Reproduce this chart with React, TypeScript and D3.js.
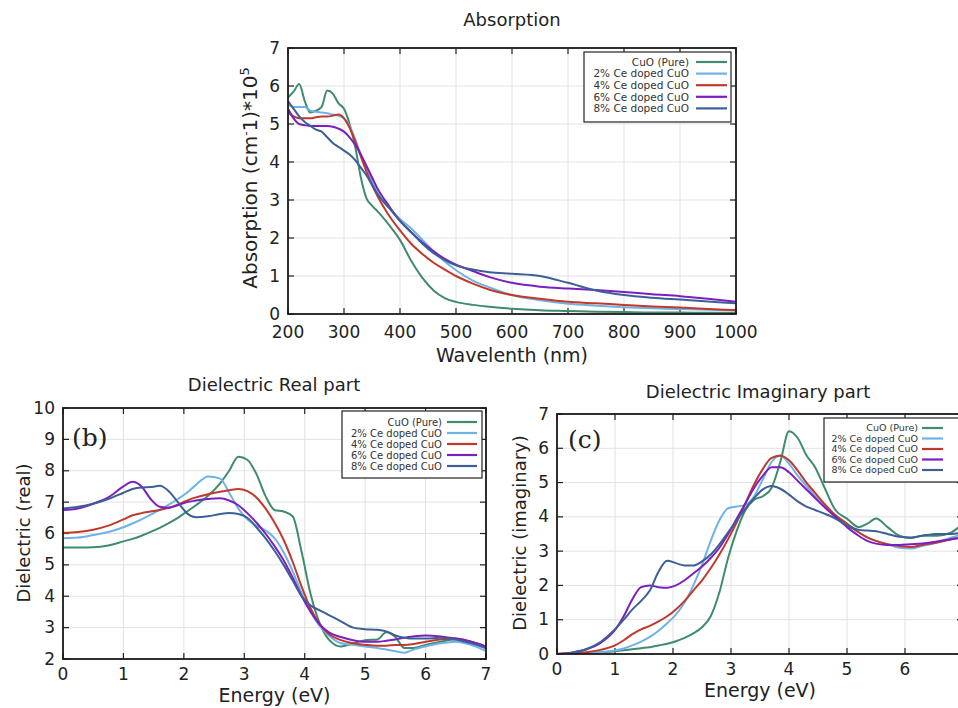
import React from 'react';
import * as d3 from 'd3';

// ---- series ----
const seriesNames = ['CuO (Pure)', '2% Ce doped CuO', '4% Ce doped CuO', '6% Ce doped CuO', '8% Ce doped CuO'];
const seriesColors = ['#3f8c6c', '#6fb2e8', '#c0392b', '#7b1fbf', '#3d5f98'];

// ---- (a) absorption ----
const absWavelength = [200, 210, 220, 230, 240, 250, 260, 270, 280, 290, 300, 310, 320, 330, 340, 350, 360, 380, 400, 420, 440, 460, 480, 500, 530, 560, 600, 650, 700, 750, 800, 850, 900, 950, 1000];
const absPure = [5.7, 5.85, 6.05, 5.6, 5.3, 5.35, 5.45, 5.88, 5.8, 5.55, 5.4, 5.0, 4.4, 3.6, 3.05, 2.85, 2.7, 2.35, 1.95, 1.4, 0.95, 0.62, 0.42, 0.32, 0.24, 0.19, 0.14, 0.1, 0.08, 0.06, 0.05, 0.04, 0.04, 0.03, 0.03];
const abs2 = [5.5, 5.45, 5.45, 5.45, 5.35, 5.32, 5.3, 5.28, 5.25, 5.22, 5.15, 4.95, 4.6, 4.2, 3.85, 3.5, 3.2, 2.8, 2.5, 2.25, 1.95, 1.65, 1.38, 1.15, 0.88, 0.7, 0.5, 0.36, 0.27, 0.22, 0.18, 0.15, 0.13, 0.11, 0.1];
const abs4 = [5.3, 5.2, 5.15, 5.15, 5.15, 5.18, 5.2, 5.2, 5.22, 5.25, 5.15, 4.9, 4.55, 4.15, 3.75, 3.4, 3.1, 2.6, 2.2, 1.85, 1.58, 1.35, 1.17, 1.0, 0.8, 0.64, 0.5, 0.4, 0.32, 0.28, 0.24, 0.2, 0.17, 0.13, 0.1];
const abs6 = [5.4, 5.15, 5.0, 4.97, 4.95, 4.95, 4.95, 4.95, 4.93, 4.88, 4.8, 4.65, 4.45, 4.2, 3.9, 3.6, 3.3, 2.85, 2.45, 2.15, 1.88, 1.65, 1.45, 1.3, 1.13, 0.97, 0.82, 0.72, 0.67, 0.63, 0.58, 0.52, 0.47, 0.4, 0.32];
const abs8 = [5.6, 5.4, 5.2, 5.05, 4.95, 4.85, 4.8, 4.65, 4.5, 4.4, 4.3, 4.2, 4.05, 3.85, 3.65, 3.4, 3.15, 2.8, 2.45, 2.15, 1.85, 1.6, 1.42, 1.28, 1.17, 1.1, 1.06, 1.0, 0.82, 0.62, 0.5, 0.43, 0.38, 0.33, 0.28];
const absXTicks = [200, 300, 400, 500, 600, 700, 800, 900, 1000];
const absYTicks = [0, 1, 2, 3, 4, 5, 6, 7];

// ---- (b) dielectric real ----
const realEnergy = [0, 0.25, 0.5, 0.75, 1, 1.15, 1.3, 1.45, 1.6, 1.75, 1.9, 2.05, 2.2, 2.4, 2.6, 2.75, 2.9, 3.05, 3.2, 3.35, 3.5, 3.65, 3.8, 3.95, 4.1, 4.25, 4.4, 4.6, 4.8, 5.0, 5.2, 5.35, 5.5, 5.65, 5.8, 6.0, 6.25, 6.5, 6.75, 7.0];
const realPure = [5.55, 5.55, 5.56, 5.62, 5.75, 5.83, 5.93, 6.05, 6.18, 6.33, 6.5, 6.7, 6.9, 7.2, 7.6, 8.0, 8.45, 8.35, 7.9, 7.2, 6.75, 6.7, 6.55, 5.4, 4.05, 3.13, 2.62, 2.4, 2.5, 2.6, 2.62, 2.85, 2.7, 2.35, 2.35, 2.45, 2.55, 2.62, 2.55, 2.35];
const real2 = [5.85, 5.87, 5.95, 6.05, 6.2, 6.32, 6.45, 6.6, 6.75, 6.92, 7.1, 7.3, 7.55, 7.82, 7.75, 7.3, 6.8, 6.45, 6.25, 6.1, 5.85, 5.4, 4.8, 4.1, 3.5, 3.05, 2.75, 2.5, 2.45, 2.4, 2.35, 2.3, 2.25, 2.2, 2.3, 2.4, 2.5, 2.55, 2.45, 2.25];
const real4 = [6.02, 6.05, 6.12, 6.25, 6.45, 6.58, 6.65, 6.7, 6.75, 6.82, 6.92, 7.05, 7.15, 7.25, 7.33, 7.38, 7.42, 7.35, 7.15, 6.8, 6.35, 5.8, 5.1, 4.3, 3.6, 3.1, 2.8, 2.6, 2.5, 2.45, 2.42, 2.42, 2.45, 2.45, 2.48, 2.55, 2.62, 2.65, 2.55, 2.4];
const real6 = [6.75, 6.8, 6.95, 7.15, 7.5, 7.65, 7.5, 7.1, 6.85, 6.82, 6.9, 7.0, 7.05, 7.1, 7.12, 7.05, 6.9, 6.65, 6.35, 6.0, 5.6, 5.15, 4.6, 4.0, 3.5, 3.1, 2.85, 2.7, 2.6, 2.55, 2.55, 2.58, 2.62, 2.68, 2.72, 2.75, 2.72, 2.65, 2.55, 2.4];
const real8 = [6.8, 6.85, 6.95, 7.1, 7.3, 7.42, 7.47, 7.48, 7.52, 7.35, 7.0, 6.65, 6.52, 6.55, 6.62, 6.65, 6.62, 6.5, 6.2, 5.85, 5.45, 5.0, 4.5, 4.0, 3.7, 3.55, 3.4, 3.2, 3.0, 2.95, 2.93, 2.88, 2.75, 2.68, 2.65, 2.65, 2.68, 2.62, 2.5, 2.35];
const realXTicks = [0, 1, 2, 3, 4, 5, 6, 7];
const realYTicks = [2, 3, 4, 5, 6, 7, 8, 9, 10];

// ---- (c) dielectric imaginary ----
const imagEnergy = [0, 0.25, 0.5, 0.75, 1, 1.15, 1.3, 1.45, 1.6, 1.75, 1.9, 2.05, 2.2, 2.35, 2.5, 2.65, 2.8, 2.95, 3.1, 3.25, 3.4, 3.55, 3.7, 3.85, 4.0, 4.15, 4.3, 4.45, 4.6, 4.8, 5.0, 5.2, 5.35, 5.5, 5.7, 5.9, 6.1, 6.3, 6.55, 6.8, 7.0];
const imagPure = [0, 0.01, 0.03, 0.05, 0.08, 0.11, 0.14, 0.17, 0.2, 0.25, 0.3, 0.37, 0.47, 0.6, 0.78, 1.1, 1.8, 2.8, 3.6, 4.2, 4.5, 4.6, 4.85, 5.6, 6.5, 6.3, 5.8, 5.45, 4.9, 4.2, 3.95, 3.7, 3.8, 3.95, 3.7, 3.45, 3.38, 3.45, 3.45, 3.55, 3.8];
const imag2 = [0, 0.01, 0.03, 0.06, 0.1, 0.16, 0.25, 0.36, 0.5, 0.68, 0.9, 1.15, 1.5, 2.0, 2.6, 3.3, 3.9, 4.25, 4.3, 4.35, 4.6, 5.1, 5.6, 5.8, 5.55, 5.2, 4.9, 4.6, 4.35, 4.05, 3.8, 3.55, 3.4, 3.3, 3.2, 3.1, 3.08, 3.15, 3.25, 3.4, 3.5];
const imag4 = [0, 0.02, 0.05, 0.12, 0.25, 0.4, 0.58, 0.72, 0.82, 0.95, 1.1, 1.3, 1.55, 1.85, 2.15, 2.5, 2.9, 3.35, 3.85, 4.4, 4.95, 5.4, 5.72, 5.78, 5.65, 5.35, 5.0, 4.7, 4.4, 4.05, 3.8, 3.55, 3.4, 3.3, 3.2, 3.15, 3.12, 3.18, 3.25, 3.35, 3.4];
const imag6 = [0, 0.04, 0.13, 0.32, 0.7, 1.1, 1.6, 1.95, 2.0, 1.95, 1.93, 2.0, 2.15, 2.35, 2.55, 2.8, 3.1, 3.5, 3.95, 4.4, 4.85, 5.2, 5.45, 5.45, 5.3, 5.05, 4.8, 4.55, 4.3, 4.0, 3.7, 3.45, 3.3, 3.22, 3.18, 3.18, 3.2, 3.22, 3.28, 3.35, 3.4];
const imag8 = [0, 0.04, 0.14, 0.35, 0.72, 1.0, 1.3, 1.55, 1.85, 2.4, 2.72, 2.65, 2.58, 2.58, 2.7, 2.9, 3.2, 3.55, 3.9, 4.25, 4.55, 4.8, 4.9, 4.82, 4.65, 4.45, 4.3, 4.2, 4.1, 3.95, 3.75, 3.62, 3.6, 3.58, 3.5, 3.42, 3.4, 3.45, 3.5, 3.5, 3.55];
// the 7 eV tick falls past the right edge of the figure
const imagXTicks = [0, 1, 2, 3, 4, 5, 6];
const imagYTicks = [0, 1, 2, 3, 4, 5, 6, 7];

const FONT = 'DejaVu Sans, sans-serif';

type Legend = { x0: number; x1: number; y0: number; y1: number; row0: number; step: number; textRight: number; l0: number; l1: number; size: number };

type PanelProps = {
  id: string;
  box: { left: number; top: number; right: number; bottom: number };
  xDomain: [number, number];
  yDomain: [number, number];
  xTicks: number[];
  yTicks: number[];
  xs: number[];
  ys: number[][];
  title: string;
  titlePos: [number, number];
  xLabel: string;
  xLabelY: number;
  yLabel: React.ReactNode;
  yLabelPos: [number, number];
  yLabelSize: number;
  legend: Legend;
  tag?: { text: string; x: number; y: number };
  tickGap: number;
};

function Panel(p: PanelProps) {
  const { box } = p;
  const x = d3.scaleLinear().domain(p.xDomain).range([box.left, box.right]);
  const y = d3.scaleLinear().domain(p.yDomain).range([box.bottom, box.top]);
  const line = d3.line<number>()
    .x((_, i) => x(p.xs[i]))
    .y(d => y(d))
    .curve(d3.curveMonotoneX);
  const tk = 6;
  const lg = p.legend;

  return (
    <g>
      <defs>
        <clipPath id={'clip-' + p.id}>
          <rect x={box.left} y={box.top} width={box.right - box.left} height={box.bottom - box.top} />
        </clipPath>
      </defs>
      <rect x={box.left} y={box.top} width={box.right - box.left} height={box.bottom - box.top} fill="#fff" />
      {/* grid */}
      {p.xTicks.map(t => (
        <line key={'gx' + t} x1={x(t)} x2={x(t)} y1={box.top} y2={box.bottom} stroke="#e2e2e2" strokeWidth={1} />
      ))}
      {p.yTicks.map(t => (
        <line key={'gy' + t} x1={box.left} x2={box.right} y1={y(t)} y2={y(t)} stroke="#e2e2e2" strokeWidth={1} />
      ))}
      {/* ticks, mirrored on all sides */}
      {p.xTicks.map(t => (
        <g key={'tx' + t} stroke="#222" strokeWidth={1.2}>
          <line x1={x(t)} x2={x(t)} y1={box.bottom} y2={box.bottom - tk} />
          <line x1={x(t)} x2={x(t)} y1={box.top} y2={box.top + tk} />
        </g>
      ))}
      {p.yTicks.map(t => (
        <g key={'ty' + t} stroke="#222" strokeWidth={1.2}>
          <line x1={box.left} x2={box.left + tk} y1={y(t)} y2={y(t)} />
          <line x1={box.right} x2={box.right - tk} y1={y(t)} y2={y(t)} />
        </g>
      ))}
      {/* curves */}
      <g clipPath={`url(#clip-${p.id})`}>
        {p.ys.map((s, i) => (
          <path key={i} d={line(s) || ''} fill="none" stroke={seriesColors[i]} strokeWidth={2} strokeLinejoin="round" />
        ))}
      </g>
      {/* legend */}
      <rect x={lg.x0} y={lg.y0} width={lg.x1 - lg.x0} height={lg.y1 - lg.y0} fill="#fff" stroke="#222" strokeWidth={1.2} />
      {seriesNames.map((n, i) => {
        const ry = lg.row0 + i * lg.step;
        return (
          <g key={n}>
            <text x={lg.textRight} y={ry + lg.size * 0.36} fontSize={lg.size} fontFamily={FONT} textAnchor="end" fill="#333">{n}</text>
            <line x1={lg.l0} x2={lg.l1} y1={ry} y2={ry} stroke={seriesColors[i]} strokeWidth={2.2} />
          </g>
        );
      })}
      {/* frame */}
      <rect x={box.left} y={box.top} width={box.right - box.left} height={box.bottom - box.top} fill="none" stroke="#1a1a1a" strokeWidth={1.8} />
      {/* tick labels */}
      {p.xTicks.map(t => (
        <text key={'lx' + t} x={x(t)} y={box.bottom + p.tickGap} fontSize={17} fontFamily={FONT} textAnchor="middle" fill="#222">{t}</text>
      ))}
      {p.yTicks.map(t => (
        <text key={'ly' + t} x={box.left - 8} y={y(t) + 5.5} fontSize={17} fontFamily={FONT} textAnchor="end" fill="#222">{t}</text>
      ))}
      <text x={p.titlePos[0]} y={p.titlePos[1]} fontSize={18} fontFamily={FONT} textAnchor="middle" fill="#222">{p.title}</text>
      <text x={(box.left + box.right) / 2} y={p.xLabelY} fontSize={19} fontFamily={FONT} textAnchor="middle" fill="#222">{p.xLabel}</text>
      <text transform={`translate(${p.yLabelPos[0]},${p.yLabelPos[1]}) rotate(-90)`} fontSize={p.yLabelSize} fontFamily={FONT} textAnchor="middle" fill="#222">{p.yLabel}</text>
      {p.tag && (
        <text x={p.tag.x} y={p.tag.y} fontSize={25} fontFamily="DejaVu Serif, Liberation Serif, serif" fill="#222">{p.tag.text}</text>
      )}
    </g>
  );
}

export default function App() {
  return (
    <svg width={958} height={708} viewBox="0 0 958 708" style={{ position: 'absolute', left: 0, top: 0, background: '#fff' }}>
      <rect width={958} height={708} fill="#fff" />
      <Panel
        id="abs"
        box={{ left: 288, top: 48, right: 736, bottom: 314 }}
        xDomain={[200, 1000]}
        yDomain={[0, 7]}
        xTicks={absXTicks}
        yTicks={absYTicks}
        xs={absWavelength}
        ys={[absPure, abs2, abs4, abs6, abs8]}
        title="Absorption"
        titlePos={[512, 26]}
        xLabel="Wavelenth (nm)"
        xLabelY={362}
        yLabel={<>Absorption (cm<tspan dy={-7} fontSize={12}>-</tspan><tspan dy={7}>1)*10</tspan><tspan dy={-8} fontSize={13}>5</tspan></>}
        yLabelPos={[257, 178]}
        yLabelSize={20}
        legend={{ x0: 584, x1: 731, y0: 52, y1: 122, row0: 62, step: 11.6, textRight: 689, l0: 696, l1: 727, size: 10.5 }}
        tickGap={24}
      />
      <Panel
        id="real"
        box={{ left: 63, top: 408, right: 486, bottom: 659 }}
        xDomain={[0, 7]}
        yDomain={[2, 10]}
        xTicks={realXTicks}
        yTicks={realYTicks}
        xs={realEnergy}
        ys={[realPure, real2, real4, real6, real8]}
        title="Dielectric Real part"
        titlePos={[274, 391]}
        xLabel="Energy (eV)"
        xLabelY={702}
        yLabel="Dielectric (real)"
        yLabelPos={[30, 533]}
        yLabelSize={18}
        legend={{ x0: 342, x1: 482, y0: 411, y1: 478, row0: 422, step: 11, textRight: 442, l0: 447, l1: 477, size: 10 }}
        tag={{ text: '(b)', x: 72, y: 446 }}
        tickGap={21}
      />
      <Panel
        id="imag"
        box={{ left: 557, top: 414, right: 963, bottom: 654 }}
        xDomain={[0, 7]}
        yDomain={[0, 7]}
        xTicks={imagXTicks}
        yTicks={imagYTicks}
        xs={imagEnergy}
        ys={[imagPure, imag2, imag4, imag6, imag8]}
        title="Dielectric Imaginary part"
        titlePos={[758, 398]}
        xLabel="Energy (eV)"
        xLabelY={697}
        yLabel="Dielectric (imaginary)"
        yLabelPos={[526, 533]}
        yLabelSize={18}
        legend={{ x0: 824, x1: 970, y0: 418, y1: 482, row0: 428, step: 10.5, textRight: 918, l0: 922, l1: 943, size: 9.5 }}
        tag={{ text: '(c)', x: 568, y: 448 }}
        tickGap={21}
      />
    </svg>
  );
}
